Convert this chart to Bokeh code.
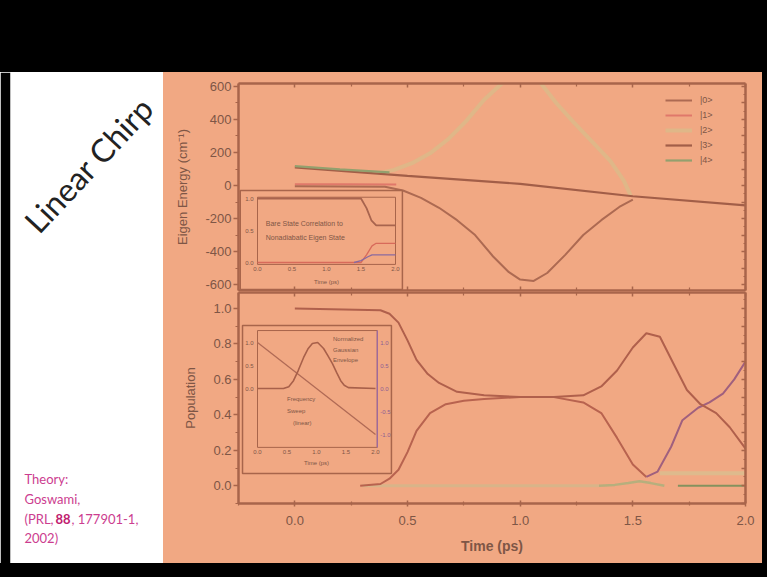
from bokeh.plotting import figure
from bokeh.layouts import column, row
from bokeh.models import (Range1d, FixedTicker, LinearAxis, Legend, LegendItem, Label,
                          PrintfTickFormatter, SingleIntervalTicker, CustomLabelingPolicy)
from bokeh.core.properties import value
from bokeh.embed import file_html
from bokeh.resources import INLINE

# ---------------- data ----------------
e_ticks = [-600, -400, -200, 0, 200, 400, 600]
e_minor = [-500, -300, -100, 100, 300, 500]
t_ticks = [0.0, 0.5, 1.0, 1.5, 2.0]
t_minor = [-0.25, 0.25, 0.75, 1.25, 1.75]
pop_ticks = [0.0, 0.2, 0.4, 0.6, 0.8, 1.0]
pop_minor = [-0.1, 0.1, 0.3, 0.5, 0.7, 0.9]
legend_labels = ["|0>", "|1>", "|2>", "|3>", "|4>"]

# eigen energies (cm^-1) vs time (ps)
ramp_t = [0.0, 0.5, 1.0, 1.5, 2.0]
ramp_e = [110, 58, 10, -65, -120]
dip_t = [0.0, 0.40, 0.48, 0.56, 0.64, 0.72, 0.80, 0.88, 0.95, 1.00, 1.06, 1.12, 1.20, 1.28, 1.36, 1.44, 1.50]
dip_e = [-5, -8, -30, -75, -135, -210, -300, -430, -525, -570, -578, -530, -420, -300, -210, -130, -85]
hump_t = [0.36, 0.44, 0.52, 0.60, 0.68, 0.76, 0.84, 0.92, 1.00, 1.08, 1.16, 1.24, 1.32, 1.40, 1.46, 1.49]
hump_e = [72, 95, 135, 195, 280, 390, 520, 620, 680, 640, 500, 380, 265, 150, 30, -60]
flat1_t = [0.0, 0.22, 0.45]
flat1_e = [8, 8, 6]
green_t = [0.0, 0.2, 0.42]
green_e = [118, 98, 80]

# populations vs time (ps)
popA_t = [0.0, 0.38, 0.42, 0.46, 0.50, 0.54, 0.59, 0.64, 0.72, 0.84, 1.0, 1.15, 1.28, 1.36, 1.43, 1.50,
          1.56, 1.62, 1.68, 1.74, 1.80, 1.87, 1.93, 2.0]
popA = [1.0, 0.99, 0.97, 0.92, 0.82, 0.71, 0.63, 0.58, 0.53, 0.51, 0.50, 0.50, 0.51, 0.56, 0.65, 0.78,
        0.86, 0.84, 0.69, 0.54, 0.46, 0.41, 0.33, 0.21]
popB_t = [0.29, 0.38, 0.42, 0.46, 0.50, 0.54, 0.60, 0.67, 0.75, 0.84, 1.0, 1.15, 1.28, 1.36, 1.43, 1.50, 1.56]
popB = [0.0, 0.01, 0.04, 0.09, 0.19, 0.31, 0.41, 0.46, 0.48, 0.49, 0.50, 0.50, 0.47, 0.41, 0.27, 0.12, 0.05]
popP_t = [1.56, 1.61, 1.67, 1.72, 1.79, 1.84, 1.90, 1.95, 2.0]
popP = [0.05, 0.08, 0.22, 0.37, 0.44, 0.47, 0.52, 0.60, 0.70]
popG0_t = [0.30, 1.35]
popG0 = [0.0, 0.0]
popG1_t = [1.35, 1.42, 1.48, 1.53, 1.58, 1.64]
popG1 = [0.0, 0.005, 0.015, 0.025, 0.015, 0.0]
popG2_t = [1.70, 2.0]
popG2 = [0.0, 0.0]
popG3_t = [1.62, 2.0]
popG3 = [0.07, 0.07]

# inset 1 (bare state correlation)
in1_xticks = [0.0, 0.5, 1.0, 1.5, 2.0]
in1_yticks = [0.0, 0.5, 1.0]
in1a_t = [0.0, 1.50, 1.58, 1.65, 1.72, 2.0]
in1a = [1.0, 1.0, 0.85, 0.66, 0.58, 0.58]
in1b_t = [0.0, 1.50, 1.58, 1.66, 1.72, 2.0]
in1b = [0.0, 0.0, 0.12, 0.26, 0.30, 0.30]
in1c_t = [1.40, 1.50, 1.60, 1.66, 2.0]
in1c = [0.0, 0.03, 0.09, 0.12, 0.12]

# inset 2 (pulse envelope and linear frequency sweep)
in2_xticks = [0.0, 0.5, 1.0, 1.5, 2.0]
in2_lticks = [0.0, 0.5, 1.0]
in2_rticks = [1.0, 0.5, 0.0, -0.5, -1.0]
env_t = [0.0, 0.44, 0.53, 0.61, 0.69, 0.78, 0.86, 0.93, 1.02, 1.12, 1.19, 1.27, 1.34, 1.41, 1.47, 1.54, 2.0]
env = [0.0, 0.0, 0.04, 0.17, 0.39, 0.67, 0.87, 0.98, 1.0, 0.87, 0.72, 0.54, 0.35, 0.17, 0.07, 0.02, 0.0]
freq_t = [0.0, 2.0]
freq = [1.0, -1.0]

# ---------------- style ----------------
BG = "#F1A883"
AX = "#A8654B"
TXT = "#7E5646"
FONT = "Liberation Sans"
SLIDE_FONT = "Lato"
MAG = "#CC3D8F"


def no_labels():
    return CustomLabelingPolicy(code="for (const i of indices) indices.unset(i)")


def make_axis(ticker, labels=True, fmt=None, tin=0, tout=5, mtin=0, mtout=3, standoff=2,
              size="13px", label=None, label_size="13px", label_style="normal", label_standoff=10):
    kw = dict(ticker=ticker, axis_line_color=AX, axis_line_width=2.5,
              major_tick_line_color=AX, major_tick_line_width=1.5,
              minor_tick_line_color=AX, minor_tick_line_width=1.2,
              major_tick_in=tin, major_tick_out=tout, minor_tick_in=mtin, minor_tick_out=mtout,
              major_label_text_color=TXT, major_label_text_font=FONT,
              major_label_text_font_size=size if labels else "0px",
              major_label_standoff=standoff if labels else 0)
    if not labels:
        kw["major_label_policy"] = no_labels()
    if fmt is not None:
        kw["formatter"] = fmt
    if label is not None:
        kw.update(axis_label=label, axis_label_text_font=FONT, axis_label_text_font_size=label_size,
                  axis_label_text_font_style=label_style, axis_label_text_color=TXT,
                  axis_label_standoff=label_standoff)
    return LinearAxis(**kw)


def inset_ranges(p, name, frame_w, frame_h, box, xlim, ylim):
    l, t, r, b = box
    sx = (xlim[1] - xlim[0]) / (r - l)
    sy = (ylim[1] - ylim[0]) / (b - t)
    p.extra_x_ranges[name + "x"] = Range1d(xlim[0] - l * sx, xlim[1] + (frame_w - r) * sx)
    p.extra_y_ranges[name + "y"] = Range1d(ylim[0] - (frame_h - b) * sy, ylim[1] + t * sy)
    return dict(x_range_name=name + "x", y_range_name=name + "y")


def tiny_text(p, xs, ys, texts, rn, align="center", baseline="middle", xo=0, yo=0, color=TXT, size="6px"):
    p.text(x=xs, y=ys, text=texts, text_align=align, text_baseline=baseline, x_offset=xo, y_offset=yo,
           text_color=color, text_font=value(FONT), text_font_size=value(size), **rn)


def black_block(w, h):
    b = figure(width=w, height=h, x_range=Range1d(0, 1), y_range=Range1d(0, 1),
               toolbar_location=None, output_backend="svg", x_axis_location=None, y_axis_location=None,
               min_border=0, background_fill_color="black", border_fill_color="black", outline_line_color=None,
               styles={"background-color": "#000000"})
    b.grid.visible = False
    return b


# ---------------- black frame of the slide ----------------
band = black_block(767, 72)
rstrip = black_block(5, 491)
bottom = black_block(767, 14)

# ---------------- left white panel ----------------
left = figure(width=163, height=491, x_range=Range1d(0, 1), y_range=Range1d(0, 1),
              toolbar_location=None, output_backend="svg", x_axis_location=None, y_axis_location=None,
              min_border=0, min_border_left=10, background_fill_color="white", border_fill_color="black",
              outline_line_color=None, styles={"background-color": "#ffffff"})
left.grid.visible = False
left.add_layout(Label(x=78, y=399, x_units="screen", y_units="screen", text="Linear Chirp", angle=47,
                      angle_units="deg", text_align="center", text_baseline="middle", text_font=SLIDE_FONT,
                      text_font_size="32px", text_color="#222222"))
for txt, yy in [("Theory:", 85), ("Goswami,", 65), ("2002)", 26)]:
    left.add_layout(Label(x=14, y=yy, x_units="screen", y_units="screen", text=txt, text_align="left",
                          text_baseline="middle", text_font=SLIDE_FONT, text_font_size="13px", text_color=MAG))
left.add_layout(Label(x=14, y=45, x_units="screen", y_units="screen", text="(PRL, ", text_align="left",
                      text_baseline="middle", text_font=SLIDE_FONT, text_font_size="13px", text_color=MAG))
left.add_layout(Label(x=45, y=45, x_units="screen", y_units="screen", text="88", text_align="left",
                      text_baseline="middle", text_font=SLIDE_FONT, text_font_size="13px",
                      text_font_style="bold", text_color="#C0206E"))
left.add_layout(Label(x=61, y=45, x_units="screen", y_units="screen", text=", 177901-1,", text_align="left",
                      text_baseline="middle", text_font=SLIDE_FONT, text_font_size="13px", text_color=MAG))

# ---------------- energy plot ----------------
pe = figure(width=599, height=219, x_range=Range1d(-0.25, 2.0), y_range=Range1d(-636, 618),
            toolbar_location=None, output_backend="svg", x_axis_location=None, y_axis_location=None,
            min_border_left=75, min_border_right=17, min_border_top=11, min_border_bottom=1,
            background_fill_color=BG, border_fill_color=BG, outline_line_color=None,
            styles={"background-color": BG})
pe.grid.visible = False
pe.add_layout(make_axis(FixedTicker(ticks=e_ticks, minor_ticks=e_minor), fmt=PrintfTickFormatter(format="%d"),
                        label="Eigen Energy (cm\u207b\u00b9)", label_standoff=12), "left")
pe.add_layout(make_axis(FixedTicker(ticks=t_ticks, minor_ticks=t_minor), labels=False, tin=4, tout=0,
                        mtin=3, mtout=0), "above")
pe.add_layout(make_axis(FixedTicker(ticks=t_ticks, minor_ticks=t_minor), labels=False, tin=4, tout=0,
                        mtin=3, mtout=0), "below")
pe.add_layout(make_axis(SingleIntervalTicker(interval=100, num_minor_ticks=2), labels=False, tin=4, tout=0,
                        mtin=2, mtout=0), "right")

r_hump = pe.line(hump_t, hump_e, line_color="#CFC28C", line_width=4, line_alpha=0.55)
r_ramp = pe.line(ramp_t, ramp_e, line_color="#A25E48", line_width=2.2)
r_green = pe.line(green_t, green_e, line_color="#93A06E", line_width=2.2)
r_flat1 = pe.line(flat1_t, flat1_e, line_color="#E0786A", line_width=2)
r_dip = pe.line(dip_t, dip_e, line_color="#AD6A52", line_width=2)

leg = Legend(items=[LegendItem(label=lab, renderers=[r]) for lab, r in
                    zip(legend_labels, [r_dip, r_flat1, r_hump, r_ramp, r_green])],
             location=(427, 124), label_text_font=FONT, label_text_font_size="9px", label_text_color=TXT,
             glyph_width=27, glyph_height=12, label_height=12, label_standoff=8, spacing=3, padding=0,
             margin=0, background_fill_alpha=0, border_line_color=None)
pe.add_layout(leg)

# inset 1
rn1 = inset_ranges(pe, "i1", 507, 207, (19, 115, 157, 179), (0.0, 2.0), (0.0, 1.0))
pe.quad(left=-0.25, right=2.10, bottom=-0.42, top=1.125, fill_color=BG, line_color=AX, line_width=1.5, **rn1)
pe.quad(left=0.0, right=2.0, bottom=-0.03, top=1.02, fill_alpha=0, line_color=AX, line_width=1, **rn1)
pe.line(in1a_t, in1a, line_color="#A8644E", line_width=1.8, **rn1)
pe.line(in1b_t, in1b, line_color="#D86A5A", line_width=1.3, **rn1)
pe.line(in1c_t, in1c, line_color="#8A6AA0", line_width=1.3, **rn1)
tiny_text(pe, in1_xticks, [-0.03] * len(in1_xticks), [f"{v:.1f}" for v in in1_xticks], rn1,
          baseline="top", yo=3)
tiny_text(pe, [0.0] * len(in1_yticks), in1_yticks, [f"{v:.1f}" for v in in1_yticks], rn1,
          align="right", xo=-4)
tiny_text(pe, [1.0], [-0.31], ["Time (ps)"], rn1)
tiny_text(pe, [0.12, 0.12], [0.61, 0.39], ["Bare State Correlation to", "Nonadiabatic Eigen State"], rn1,
          align="left", size="7px")

# ---------------- population plot ----------------
pp = figure(width=599, height=272, x_range=Range1d(-0.25, 2.0), y_range=Range1d(-0.10, 1.09),
            toolbar_location=None, output_backend="svg", x_axis_location=None, y_axis_location=None,
            min_border_left=75, min_border_right=17, min_border_top=1, min_border_bottom=60,
            background_fill_color=BG, border_fill_color=BG, outline_line_color=None,
            styles={"background-color": BG})
pp.grid.visible = False
fmt1 = PrintfTickFormatter(format="%.1f")
pp.add_layout(make_axis(FixedTicker(ticks=pop_ticks, minor_ticks=pop_minor), fmt=fmt1, label="Population",
                        label_standoff=12), "left")
pp.add_layout(make_axis(FixedTicker(ticks=t_ticks, minor_ticks=t_minor), fmt=fmt1, tin=3, tout=3, mtin=2,
                        mtout=2, standoff=9, label="Time (ps)", label_size="14px", label_style="bold",
                        label_standoff=10), "below")
pp.add_layout(make_axis(FixedTicker(ticks=t_ticks, minor_ticks=t_minor), labels=False, tin=4, tout=0,
                        mtin=3, mtout=0), "above")
pp.add_layout(make_axis(SingleIntervalTicker(interval=0.1, num_minor_ticks=2), labels=False, tin=4, tout=0,
                        mtin=2, mtout=0), "right")

pp.line(popG0_t, popG0, line_color="#C8BC8E", line_width=3, line_alpha=0.6)
pp.line(popG3_t, popG3, line_color="#D2C694", line_width=4, line_alpha=0.6)
pp.line(popG1_t, popG1, line_color="#A8B07C", line_width=2.5, line_alpha=0.8)
pp.line(popG2_t, popG2, line_color="#84925E", line_width=2)
pp.line(popB_t, popB, line_color="#B8634F", line_width=2)
pp.line(popP_t, popP, line_color="#A0607E", line_width=2)
pp.line(popA_t, popA, line_color="#B0604C", line_width=2)

# inset 2
rn2 = inset_ranges(pp, "i2", 507, 211, (19, 50, 137, 96), (0.0, 2.0), (0.0, 1.0))
pp.quad(left=-0.254, right=2.27, bottom=-1.85, top=1.37, fill_color=BG, line_color=AX, line_width=1.5, **rn2)
pp.quad(left=0.0, right=2.03, bottom=-1.28, top=1.26, fill_alpha=0, line_color=AX, line_width=1, **rn2)
pp.segment(x0=2.03, y0=-1.28, x1=2.03, y1=1.26, line_color="#9A6AA8", line_width=1.2, **rn2)
pp.line(freq_t, freq, line_color="#B06A55", line_width=1.3, **rn2)
pp.line(env_t, env, line_color="#A8604A", line_width=1.6, **rn2)
tiny_text(pp, in2_xticks, [-1.28] * len(in2_xticks), [f"{v:.1f}" for v in in2_xticks], rn2,
          baseline="top", yo=3)
tiny_text(pp, [0.0] * len(in2_lticks), in2_lticks, [f"{v:.1f}" for v in in2_lticks], rn2,
          align="right", xo=-4)
tiny_text(pp, [2.03] * len(in2_rticks), in2_rticks, [f"{v:.1f}" for v in in2_rticks], rn2,
          align="left", xo=3, color="#8E5E92")
tiny_text(pp, [1.0], [-1.63], ["Time (ps)"], rn2)
tiny_text(pp, [1.28, 1.28, 1.28], [1.07, 0.83, 0.61], ["Normalized", "Gaussian", "Envelope"], rn2, align="left")
tiny_text(pp, [0.5, 0.5, 0.6], [-0.22, -0.48, -0.76], ["Frequency", "Sweep", "(linear)"], rn2, align="left")

layout = column(band, row(left, column(pe, pp), rstrip), bottom)

html = file_html(layout, INLINE)
html = html.replace("</head>", "<style>html, body { background-color: #000000; }</style></head>", 1)
open("out.html", "w").write(html)
